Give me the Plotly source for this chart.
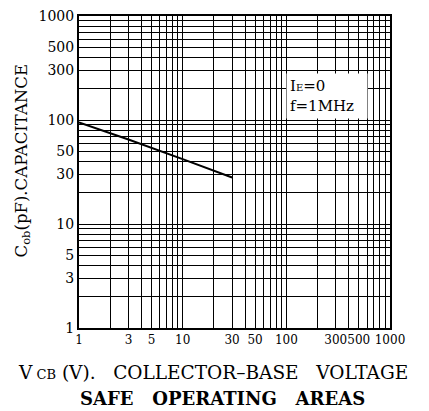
import plotly.graph_objects as go

# data
vcb = [1, 3, 10, 30]
cob = [95, 65, 42, 28]

x_ticks = [1, 3, 5, 10, 30, 50, 100, 300, 500, 1000]
y_ticks = [1, 3, 5, 10, 30, 50, 100, 300, 500, 1000]
minor_vals = [m * 10 ** d for d in range(0, 3) for m in range(1, 10)] + [1000]

sp = "\u00a0"

fig = go.Figure()
fig.add_trace(go.Scatter(x=vcb, y=cob, mode="lines",
                         line=dict(color="black", width=2), showlegend=False))

font_serif = "DejaVu Serif"
axis_common = dict(
    type="log", showgrid=True, gridcolor="black", gridwidth=1.3,
    showline=True, linecolor="black", linewidth=2, mirror=True,
    ticks="", zeroline=False, tickangle=0, automargin=False,
    minor=dict(tickvals=minor_vals, showgrid=True, gridcolor="black", gridwidth=1),
)

fig.update_xaxes(**axis_common, range=[0, 3], tickvals=x_ticks,
                 ticktext=[str(v) for v in x_ticks],
                 tickfont=dict(family=font_serif, size=12, color="black"))
fig.update_yaxes(**axis_common, range=[0, 3], tickvals=y_ticks,
                 ticktext=[str(v) for v in y_ticks],
                 tickfont=dict(family=font_serif, size=14, color="black"))

# x-axis title
fig.add_annotation(x=0.431, y=-0.144, xref="paper", yref="paper", xanchor="center", yanchor="middle",
                   text="V<span style='font-size:13px'>" + sp + "CB</span>" + sp + "(V)." + sp * 3
                        + "COLLECTOR\u2013BASE" + sp * 3 + "VOLTAGE",
                   showarrow=False, font=dict(family=font_serif, size=18.5, color="black"))
# y-axis title
fig.add_annotation(x=-0.183, y=0.534, xref="paper", yref="paper", xanchor="center", yanchor="middle",
                   text="C<sub>ob</sub>(pF).CAPACITANCE", textangle=-90,
                   showarrow=False, font=dict(family=font_serif, size=16.5, color="black"))

fig.add_annotation(x=0.665, y=0.744, xref="paper", yref="paper", xanchor="left", yanchor="middle",
                   text="I<span style='font-size:10px'>E</span>=0" + sp * 4 + "<br>f=1MHz" + sp * 2,
                   showarrow=False, align="left", bgcolor="white", borderpad=3,
                   font=dict(family=font_serif, size=15, color="black"))

fig.add_annotation(x=0.463, y=-0.225, xref="paper", yref="paper", xanchor="center", yanchor="middle",
                   text="<b>SAFE" + sp * 3 + "OPERATING" + sp * 3 + "AREAS</b>", showarrow=False,
                   font=dict(family=font_serif, size=18, color="black"))

# page body adds an 8px margin, so the figure is sized to the visible window
fig.update_layout(width=421, height=403, margin=dict(l=71, r=39, t=8, b=83),
                  paper_bgcolor="white", plot_bgcolor="white")

fig.write_html("out.html")
